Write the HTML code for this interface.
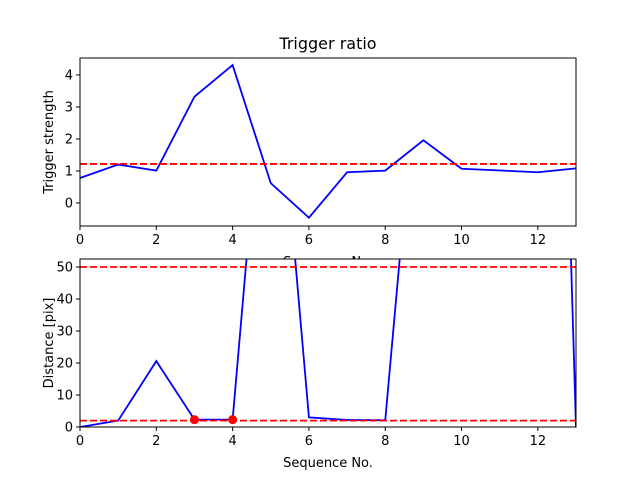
<!DOCTYPE html>
<html><head><meta charset="utf-8"><style>
body{margin:0;background:#fff}
text{font-family:"DejaVu Sans","Liberation Sans",sans-serif;fill:#000}
</style></head><body>
<svg id="c" width="640" height="480" xmlns="http://www.w3.org/2000/svg"></svg>
<script>
const xsTop=[0,1,2,3,4,5,6,7,8,9,10,12,13];
const topVals=[0.78,1.2,1.01,3.32,4.31,0.62,-0.46,0.96,1.01,1.96,1.07,0.96,1.08];
const topThresh=1.22;
const xsBot=[0,1,2,3,4,5,6,7,8,9,10,12,13];
const botVals=[0,2,20.6,2.3,2.3,140,3,2.2,2.1,135,200,400,0];
const botThresholds=[2,50];
const markerX=[3,4];
const markerY=[2.3,2.3];
const xTicks=[0,2,4,6,8,10,12];
const topYTicks=[0,1,2,3,4];
const botYTicks=[0,10,20,30,40,50];
const NS="http://www.w3.org/2000/svg";
const svg=document.getElementById('c');
function mk(tag,attrs,parent){const e=document.createElementNS(NS,tag);for(const k in attrs)e.setAttribute(k,attrs[k]);(parent||svg).appendChild(e);return e;}
function panel(cfg){
  const {top,bottom,ymin,ymax,xs,vals,thr,yTicks,ylabel,name,clipId}=cfg;
  const L=80,R=576,xmin=0,xmax=13;
  const sx=v=>L+(v-xmin)/(xmax-xmin)*(R-L);
  const sy=v=>bottom-(v-ymin)/(ymax-ymin)*(bottom-top);
  const g=mk('g',{});
  
  
  const bg=mk('rect',{x:L,y:top,width:R-L,height:bottom-top,fill:'#fff'},g);
  
  
  const cp=mk('clipPath',{id:clipId},g);mk('rect',{x:L,y:top,width:R-L,height:bottom-top},cp);
  const cg=mk('g',{'clip-path':'url(#'+clipId+')'},g);
  const pts=xs.map((x,i)=>sx(x)+','+sy(vals[i])).join(' ');
  const pl=mk('polyline',{points:pts,fill:'none',stroke:'#0000ff','stroke-width':1.8},cg);
  
  
  thr.forEach((t,i)=>{
    const l=mk('line',{x1:L,x2:R,y1:sy(t),y2:sy(t),stroke:'#ff0000','stroke-width':1.8,'stroke-dasharray':'7,3'},cg);
    
    
  });
  if(cfg.mx){cfg.mx.forEach((x,i)=>{
    const c=mk('circle',{cx:sx(x),cy:sy(cfg.my[i]),r:4.5,fill:'#ff0000'},cg);
    
    
  });}
  mk('rect',{x:L,y:top,width:R-L,height:bottom-top,fill:'none',stroke:'#000','stroke-width':1},g);
  xTicks.forEach(t=>{
    mk('line',{x1:sx(t),x2:sx(t),y1:bottom,y2:bottom+4,stroke:'#000'},g);
    const tx=mk('text',{x:sx(t),y:bottom+18,'font-size':13,'text-anchor':'middle'},g);tx.textContent=t;
    
    
  });
  yTicks.forEach(t=>{
    mk('line',{x1:L-4,x2:L,y1:sy(t),y2:sy(t),stroke:'#000'},g);
    const tx=mk('text',{x:L-7,y:sy(t)+4.5,'font-size':13,'text-anchor':'end'},g);tx.textContent=t;
    
    
  });
  const xl=mk('text',{x:(L+R)/2,y:bottom+40,'font-size':13,'text-anchor':'middle'},g);xl.textContent='Sequence No.';
  
  
  const cy=(top+bottom)/2;
  const yl=mk('text',{x:53,y:cy,'font-size':13,'text-anchor':'middle',transform:'rotate(-90 53 '+cy+')'},g);yl.textContent=ylabel;
  
  
}
const title=mk('text',{x:328,y:49,'font-size':16,'text-anchor':'middle'});
title.textContent='Trigger ratio';


panel({top:58,bottom:226,ymin:-0.72,ymax:4.53,xs:xsTop,vals:topVals,thr:[topThresh],yTicks:topYTicks,ylabel:'Trigger strength',name:'top',clipId:'c1'});
panel({top:259,bottom:427,ymin:0,ymax:52.5,xs:xsBot,vals:botVals,thr:botThresholds,yTicks:botYTicks,ylabel:'Distance [pix]',name:'bottom',clipId:'c2',mx:markerX,my:markerY});
</script>
</body></html>
